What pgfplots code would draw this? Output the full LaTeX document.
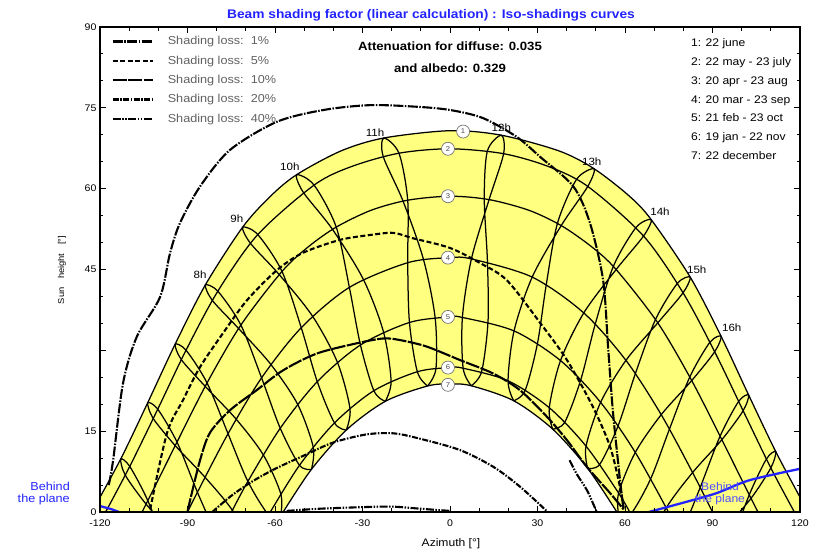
\documentclass[border=0pt]{standalone}
\usepackage{fontspec}
\setmainfont{Liberation Sans}[FakeStretch=1.1]
\usepackage{pgfplots}
\pgfplotsset{compat=1.18}
\definecolor{pvyellow}{RGB}{255,255,128}
\definecolor{pvblue}{RGB}{35,35,255}
\pgfplotsset{
  dl/.style={black, line width=1.25pt, smooth, forget plot, mark=none},
  iso/.style={black, line width=2.1pt, smooth, forget plot, mark=none},
}
\begin{document}
\begin{tikzpicture}
\useasboundingbox (-100pt,-40pt) rectangle (731pt,512pt);
\begin{axis}[
  scale only axis, width=700pt, height=485pt,
  at={(0pt,0pt)}, anchor=south west,
  xmin=-120, xmax=120, ymin=0, ymax=90,
  xtick={-120,-90,-60,-30,0,30,60,90,120},
  xticklabels={-120,-90,-60,-30,0,30,60,90,120},
  ytick={0,15,30,45,60,75,90},
  yticklabels={0,15,,45,60,75,90},
  minor x tick num=2, minor y tick num=2,
  major tick length=6pt, minor tick length=3.5pt,
  tick style={black, line width=0.9pt},
  axis line style={black, line width=1.1pt},
  tick label style={font=\fontsize{9.6}{11}\selectfont, black},
  xticklabel style={yshift=-4pt},
  clip mode=individual,
  axis on top,
  legend style={at={(0.016,0.985)}, anchor=north west, draw=none, fill=none, inner sep=0pt,
    font=\fontsize{11.5}{13}\selectfont, text=black!62, row sep=5.5pt,
    /tikz/every odd column/.append style={column sep=12pt}},
  legend image code/.code={\draw[#1] (0pt,0pt) -- (40pt,0pt);},
  legend cell align=left,
]
% yellow band between 22 June and 22 December
\addplot[draw=none, fill=pvyellow, smooth, forget plot] coordinates {
(-122.7,0.11) (-112.9,9.83) (-103.65,20.27) (-94.25,31.13) (-83.9,42.12) (-71.1,52.85) (-61.6,58.57) (-52.6,62.59) (-37.4,67.0) (-22.7,69.40) (0,70.76) (17.6,69.92) (37.4,67.0) (49.4,63.70) (61.6,58.57) (69.0,54.24) (82.37,43.58) (92.95,32.60) (102.4,21.70) (111.7,11.19) (121.4,1.35) (122.8,0)
} \closedcycle;
\addplot[draw=none, fill=white, smooth, forget plot] coordinates {
(-57.2,0) (-47.5,7.92) (-35.55,15.21) (-22.2,20.53) (-7.7,23.38) (0,23.76) (7.3,23.42) (21.85,20.64) (35.2,15.38) (47.16,8.13) (57.2,0)
} \closedcycle;

% date curves
\addplot[dl] coordinates {(-122.7,0.11) (-112.9,9.83) (-103.65,20.27) (-94.25,31.13) (-83.9,42.12) (-71.1,52.85) (-61.6,58.57) (-52.6,62.59) (-37.4,67.0) (-22.7,69.40) (0,70.76) (17.6,69.92) (37.4,67.0) (49.4,63.70) (61.6,58.57) (69.0,54.24) (82.37,43.58) (92.95,32.60) (102.4,21.70) (111.7,11.19) (121.4,1.35) (122.8,0)};
\addplot[dl] coordinates {(-118.07,0) (-109.8,8.46) (-100.2,19.08) (-90.5,30.02) (-79.6,40.97) (-65.9,51.48) (-46.6,60.66) (-33.8,64.1) (-17.5,66.58) (0,67.4) (18.38,66.49) (33.8,64.1) (47.24,60.42) (66.36,51.21) (79.9,40.68) (90.75,29.73) (100.5,18.79) (110.0,8.18) (118.07,0)};
\addplot[dl] coordinates {(-105.6,0) (-103.6,2.10) (-93.6,12.97) (-83.3,23.95) (-71.7,34.69) (-57.6,44.64) (-48.6,49.2) (-39.0,52.87) (-27.0,56.0) (-14.5,57.86) (0,58.6) (13.4,57.97) (27.0,56.0) (38.13,53.15) (48.6,49.2) (56.96,45.0) (71.24,35.10) (82.87,24.39) (93.2,13.41) (103.2,2.53) (105.6,0)};
\addplot[dl] coordinates {(-90,0) (-86.6,3.67) (-76.1,14.53) (-64.6,24.89) (-51.0,34.20) (-34.5,41.68) (-14.5,46.26) (0,47.2) (7.34,46.96) (28.18,43.59) (45.86,36.94) (60.32,28.14) (72.42,18.06) (83.17,7.32) (90,0)};
\addplot[dl] coordinates {(-74.9,0) (-69.3,5.68) (-58.2,15.54) (-45.5,24.19) (-30.7,30.99) (-13.9,35.17) (0,36.2) (4.25,36.10) (21.96,33.60) (37.89,28.10) (51.64,20.34) (63.53,11.06) (74.9,0)};
\addplot[dl] coordinates {(-61.6,0) (-51.6,8.67) (-39.6,16.53) (-26.1,22.51) (-11.2,26.03) (0,26.8) (4.5,26.68) (19.9,24.35) (34.04,19.35) (46.64,12.22) (57.8,3.53) (61.6,0)};
\addplot[dl] coordinates {(-57.2,0) (-47.5,7.92) (-35.55,15.21) (-22.2,20.53) (-7.7,23.38) (0,23.76) (7.3,23.42) (21.85,20.64) (35.2,15.38) (47.16,8.13) (57.2,0)};

% hour lines (legal time), Dec -> Jun -> Dec
\addplot[dl] coordinates {(-96.83,-7.32) (-103.6,2.10) (-109.8,8.46) (-112.9,9.83) (-111.3,6.81) (-104.2,1.46) (-94.2,-4.54)};
\addplot[dl] coordinates {(-79.6,-4.92) (-86.6,3.67) (-93.6,12.97) (-100.2,19.08) (-103.65,20.27) (-101.75,17.35) (-94.2,12.31) (-84.0,6.45) (-74.6,0.31) (-68.1,-6.47)};
\addplot[dl] coordinates {(-58.1,-0.85) (-62.2,-0.54) (-69.3,5.68) (-76.1,14.53) (-83.3,23.95) (-90.5,30.02) (-94.25,31.13) (-92.1,28.26) (-83.9,23.30) (-73.3,17.22) (-64.0,10.59) (-58.0,3.34) (-58.1,-0.85)};
\addplot[dl] coordinates {(-47.5,7.92) (-51.6,8.67) (-58.2,15.54) (-64.6,24.89) (-71.7,34.69) (-79.6,40.97) (-83.9,42.12) (-81.45,39.24) (-72.5,34.06) (-61.4,27.37) (-52.2,19.94) (-46.9,12.06) (-47.5,7.92)};
\addplot[dl] coordinates {(-35.55,15.21) (-39.6,16.53) (-45.5,24.19) (-51.0,34.20) (-57.6,44.64) (-65.9,51.48) (-71.1,52.85) (-68.4,49.85) (-58.6,44.08) (-47.1,36.31) (-38.6,27.78) (-34.3,19.22) (-35.55,15.21)};
\addplot[dl] coordinates {(-22.2,20.53) (-26.1,22.51) (-30.7,30.99) (-34.5,41.68) (-39.0,52.87) (-46.6,60.66) (-52.6,62.59) (-50.3,59.33) (-40.3,52.46) (-29.7,43.16) (-22.8,33.41) (-20.2,24.27) (-22.2,20.53)};
\addplot[dl] coordinates {(-7.7,23.38) (-11.2,26.03) (-13.9,35.17) (-14.5,46.26) (-14.5,57.86) (-17.5,66.58) (-22.7,69.40) (-22.9,65.98) (-16.1,57.69) (-9.08,46.84) (-5.1,36.07) (-4.8,26.66) (-7.7,23.38)};
\addplot[dl] coordinates {(7.3,23.42) (4.5,26.68) (4.25,36.10) (7.34,46.96) (13.4,57.97) (18.38,66.49) (17.6,69.92) (12.8,66.96) (11.75,58.12) (12.84,46.47) (13.03,35.30) (10.86,26.08) (7.3,23.42)};
\addplot[dl] coordinates {(21.85,20.64) (19.9,24.35) (21.96,33.60) (28.18,43.59) (38.13,53.15) (47.24,60.42) (49.4,63.70) (43.36,61.70) (36.83,53.55) (33.0,42.17) (29.98,31.25) (25.8,22.61) (21.85,20.64)};
\addplot[dl] coordinates {(35.2,15.38) (34.04,19.35) (37.89,28.10) (45.86,36.94) (56.96,45.0) (66.36,51.21) (69.0,54.24) (63.78,52.80) (55.98,45.55) (49.8,34.88) (44.85,24.56) (39.35,16.67) (35.2,15.38)};
\addplot[dl] coordinates {(47.16,8.13) (46.64,12.22) (51.64,20.34) (60.32,28.14) (71.24,35.10) (79.9,40.68) (82.37,43.58) (77.96,42.42) (70.46,35.72) (63.56,25.68) (57.62,15.97) (51.33,8.84) (47.16,8.13)};
\addplot[dl] coordinates {(57.83,-0.6) (57.8,3.53) (63.53,11.06) (72.42,18.06) (82.87,24.39) (90.75,29.73) (92.95,32.60) (89.1,31.49) (82.2,25.04) (75.24,15.38) (68.8,6.16) (62.0,-0.35) (57.83,-0.6)};
\addplot[dl] coordinates {(67.9,-6.26) (74.16,0.80) (83.17,7.32) (93.2,13.41) (100.5,18.79) (102.4,21.70) (98.96,20.52) (92.6,14.07) (85.78,4.54) (79.1,-4.41)};
\addplot[dl] coordinates {(84.2,-9.99) (93.4,-3.67) (103.2,2.53) (110.0,8.18) (111.7,11.19) (108.5,9.85) (102.6,3.18) (96.0,-6.45)};

% iso-shading curves
\addplot[iso, dash pattern=on 10pt off 1.5pt on 1.5pt off 1.5pt] coordinates {(-117,5) (-115.5,9.6) (-112.1,23.9) (-107.4,32.5) (-99.4,39.9) (-96.0,48.0) (-92.6,53.6) (-85.7,60.4) (-75.4,67.2) (-59.4,72.4) (-43.4,74.6) (-27.4,75.5) (-11.4,75.2) (0,74.6) (11.3,73.1) (22.9,69.6) (30.9,65.9) (42.3,60.4) (48.0,53.6) (52.5,43.0) (54.2,30.6) (55.9,18.4) (58.3,5.9) (59.5,0.5)};
\addplot[iso, dash pattern=on 5pt off 2.5pt] coordinates {(-102.8,0.5) (-97.0,14.7) (-91.5,20.8) (-85.7,26.9) (-77.8,33.2) (-69.6,39.3) (-59.3,44.9) (-50.4,48.1) (-37.7,50.5) (-27.4,51.4) (-19.5,51.8) (-12.7,50.8) (0,49.0) (10.3,46.2) (19.5,43.0) (30.9,35.1) (40.1,28.2) (49.0,19.5) (54.9,12.1) (58.3,4.6) (59.6,0.5)};
\addplot[iso, dash pattern=on 14pt off 1.5pt] coordinates {(-90,0) (-89.1,2.2) (-85.7,9.6) (-82.3,14.7) (-75.4,18.9) (-66.3,22.6) (-57.2,26.3) (-45.7,29.4) (-32.0,31.3) (-22.9,32.2) (-17.1,31.9) (-8.0,30.7) (3.4,28.2) (14.8,25.7) (24.0,22.6) (33.2,17.7) (40.0,13.4) (46.9,8.4) (54.9,3.5) (59.5,0.5)};
\addplot[iso, dash pattern=on 6pt off 1.5pt on 1.5pt off 1.5pt] coordinates {(-81.5,0) (-75,3) (-68,5.6) (-60,8.0) (-50,10.5) (-40,12.9) (-28.6,14.4) (-19.4,14.6) (-10.3,13.6) (3.4,11.5) (14.8,8.4) (24.0,4.7) (33.5,0)};
\addplot[iso, dash pattern=on 8pt off 1.5pt on 1.5pt off 1.5pt on 1.5pt off 1.5pt] coordinates {(-56,0.2) (-45,0.6) (-30,0.9) (-20,1.0) (-10,0.6) (0,0.2)};
\addplot[iso, dash pattern=on 8pt off 1.5pt on 1.5pt off 1.5pt on 1.5pt off 1.5pt] coordinates {(41,9.6) (43.5,7.0) (47,4.0) (50.3,0)};

% behind the plane
\addplot[pvblue, line width=2.3pt, smooth, forget plot] coordinates {(-120,1.1) (-116,0.5) (-112.6,-0.2)};
\addplot[pvblue, line width=2.3pt, smooth, forget plot] coordinates {(66.8,-0.2) (79.8,1.7) (91.4,3.5) (102.7,5.9) (119.9,8.0)};

% date markers
\addplot[only marks, mark=*, mark size=6.5pt, mark options={fill=white, draw=black!55, line width=0.7pt},
  point meta=explicit symbolic, nodes near coords,
  every node near coord/.append style={font=\fontsize{7}{7}\selectfont, text=black!70, anchor=center, inner sep=0pt},
  forget plot] coordinates {
(4.5,70.6) [1] (-0.7,67.4) [2] (-0.7,58.6) [3] (-0.7,47.2) [4] (-0.7,36.2) [5] (-0.7,26.8) [6] (-0.7,23.6) [7]
};

% legend
\addlegendimage{black, line width=2.4pt, dash pattern=on 10pt off 1.5pt on 1.5pt off 1.5pt}
\addlegendentry{Shading loss:\ \ 1\%}
\addlegendimage{black, line width=2.4pt, dash pattern=on 5pt off 2.5pt}
\addlegendentry{Shading loss:\ \ 5\%}
\addlegendimage{black, line width=2.4pt, dash pattern=on 14pt off 1.5pt}
\addlegendentry{Shading loss:\ \ 10\%}
\addlegendimage{black, line width=2.4pt, dash pattern=on 6pt off 1.5pt on 1.5pt off 1.5pt}
\addlegendentry{Shading loss:\ \ 20\%}
\addlegendimage{black, line width=2.4pt, dash pattern=on 8pt off 1.5pt on 1.5pt off 1.5pt on 1.5pt off 1.5pt}
\addlegendentry{Shading loss:\ \ 40\%}

% hour labels
\begin{scope}[every node/.style={font=\fontsize{10.5}{12}\selectfont, inner sep=0pt}]
\node at (-85.7,44.0) {8h};
\node at (-73.1,54.5) {9h};
\node at (-54.9,64.1) {10h};
\node at (-25.7,70.4) {11h};
\node at (17.6,71.4) {12h};
\node at (48.6,65.0) {13h};
\node at (72.0,55.7) {14h};
\node at (84.6,44.9) {15h};
\node at (96.6,34.1) {16h};
\end{scope}

% annotations
\node[anchor=base, font=\bfseries\fontsize{12}{14}\selectfont, inner sep=0pt] at (0,85.73) {Attenuation for diffuse: 0.035};
\node[anchor=base, font=\bfseries\fontsize{12}{14}\selectfont, inner sep=0pt] at (0,81.65) {and albedo: 0.329};
\begin{scope}[every node/.style={anchor=base west, font=\fontsize{11}{13}\selectfont, inner sep=0pt}]
\node at (82.6,86.47) {1: 22 june};
\node at (82.6,82.94) {2: 22 may - 23 july};
\node at (82.6,79.42) {3: 20 apr - 23 aug};
\node at (82.6,75.89) {4: 20 mar - 23 sep};
\node at (82.6,72.55) {5: 21 feb - 23 oct};
\node at (82.6,69.02) {6: 19 jan - 22 nov};
\node at (82.6,65.50) {7: 22 december};
\end{scope}
\node[anchor=base, font=\fontsize{11}{12}\selectfont, text=pvblue!80, inner sep=0pt] at (92.6,3.9) {Behind};
\node[anchor=base, font=\fontsize{11}{12}\selectfont, text=pvblue!80, inner sep=0pt] at (92.6,1.67) {the plane};
\end{axis}
% texts outside the frame
\node[anchor=base, font=\bfseries\fontsize{12.5}{14}\selectfont, text=pvblue, inner sep=0pt] at (331pt,493pt) {Beam shading factor (linear calculation) : Iso-shadings curves};
\node[anchor=base, font=\fontsize{11}{12}\selectfont, inner sep=0pt] at (351pt,-35pt) {Azimuth [°]};
\node[rotate=90, font=\fontsize{8.5}{10}\selectfont, inner sep=0pt] at (-38pt,242pt) {Sun\quad height\quad [°]};
\node[anchor=base east, font=\fontsize{11.5}{12}\selectfont, text=pvblue, inner sep=0pt] at (-30pt,21pt) {Behind};
\node[anchor=base east, font=\fontsize{11.5}{12}\selectfont, text=pvblue, inner sep=0pt] at (-30pt,9pt) {the plane};
\end{tikzpicture}
\end{document}
